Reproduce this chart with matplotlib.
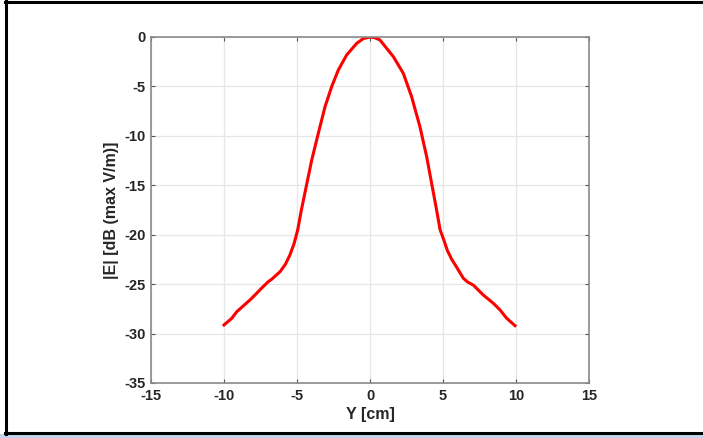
import numpy as np
import matplotlib.pyplot as plt
from matplotlib.patches import Rectangle
from matplotlib.lines import Line2D

plt.rcParams['font.family'] = ['Liberation Sans', 'DejaVu Sans']
plt.rcParams['axes.unicode_minus'] = False

# field profile
y_cm = [-10, -9.47, -9.13, -8.79, -8.22, -7.88, -7.42, -6.97, -6.73, -6.16,
        -5.8, -5.5, -5.2, -4.95, -4.7, -4.35, -3.99, -3.54, -3.08, -2.62, -2.17,
        -1.6, -0.91, -0.45, 0, 0.3, 0.68, 1.6, 2.28, 2.85, 3.42, 3.88, 4.22,
        4.55, 4.8, 5.05, 5.3, 5.6, 5.94, 6.39, 6.7, 7.08, 7.76, 8.45, 8.9, 9.36, 9.93]
e_db = [-29.13, -28.46, -27.8, -27.35, -26.6, -26.1, -25.4, -24.75, -24.5, -23.74,
        -23.0, -22.1, -20.9, -19.5, -17.5, -15.0, -12.44, -9.74, -7.05, -5.0, -3.34,
        -1.82, -0.64, -0.15, 0, -0.06, -0.3, -1.99, -3.67, -6.04, -9.07, -12.1, -14.8,
        -17.4, -19.5, -20.5, -21.6, -22.5, -23.3, -24.4, -24.8, -25.1, -26.1, -26.94,
        -27.6, -28.45, -29.2]

xticks = [-15, -10, -5, 0, 5, 10, 15]
yticks = [0, -5, -10, -15, -20, -25, -30, -35]

fig = plt.figure(figsize=(7.03, 4.38), dpi=100)
ax = fig.add_axes([151 / 703, 1 - 383 / 438, 438 / 703, 346 / 438])

ax.plot(y_cm, e_db, color='red', lw=2.2, solid_joinstyle='round')
ax.set_xlim(-15, 15)
ax.set_ylim(-35, 0)
ax.set_xticks(xticks)
ax.set_yticks(yticks)
ax.grid(True, color='#e6e6e6', lw=0.9)
ax.set_axisbelow(True)
for s in ax.spines.values():
    s.set_color('#8a8a8a')
    s.set_linewidth(1.2)
ax.tick_params(direction='in', length=3, color='#555555', labelsize=10.5, pad=4)
ax.tick_params(axis='x', top=True)
ax.tick_params(axis='y', right=True)
for lbl in ax.get_xticklabels() + ax.get_yticklabels():
    lbl.set_fontweight('bold')
    lbl.set_color('#262626')
ax.set_xlabel('Y [cm]', fontsize=11.5, fontweight='bold', color='#262626', labelpad=3)
ax.set_ylabel('|E| [dB (max V/m)]', fontsize=11.5, fontweight='bold', color='#262626', labelpad=4)

# window frame around the figure
fig.add_artist(Line2D([5.5 / 703, 5.5 / 703], [1 - 434 / 438, 1 - 1 / 438],
                      transform=fig.transFigure, color='black', lw=2.2))
fig.add_artist(Line2D([5 / 703, 1], [1 - 2 / 438, 1 - 2 / 438],
                      transform=fig.transFigure, color='black', lw=2.2))
fig.add_artist(Line2D([5 / 703, 1], [1 - 433 / 438, 1 - 433 / 438],
                      transform=fig.transFigure, color='black', lw=2.2))
fig.add_artist(Rectangle((0, 0), 1, 4 / 438, transform=fig.transFigure,
                         color='#c3d3ea', lw=0))

fig.savefig('out.png', dpi=100)
